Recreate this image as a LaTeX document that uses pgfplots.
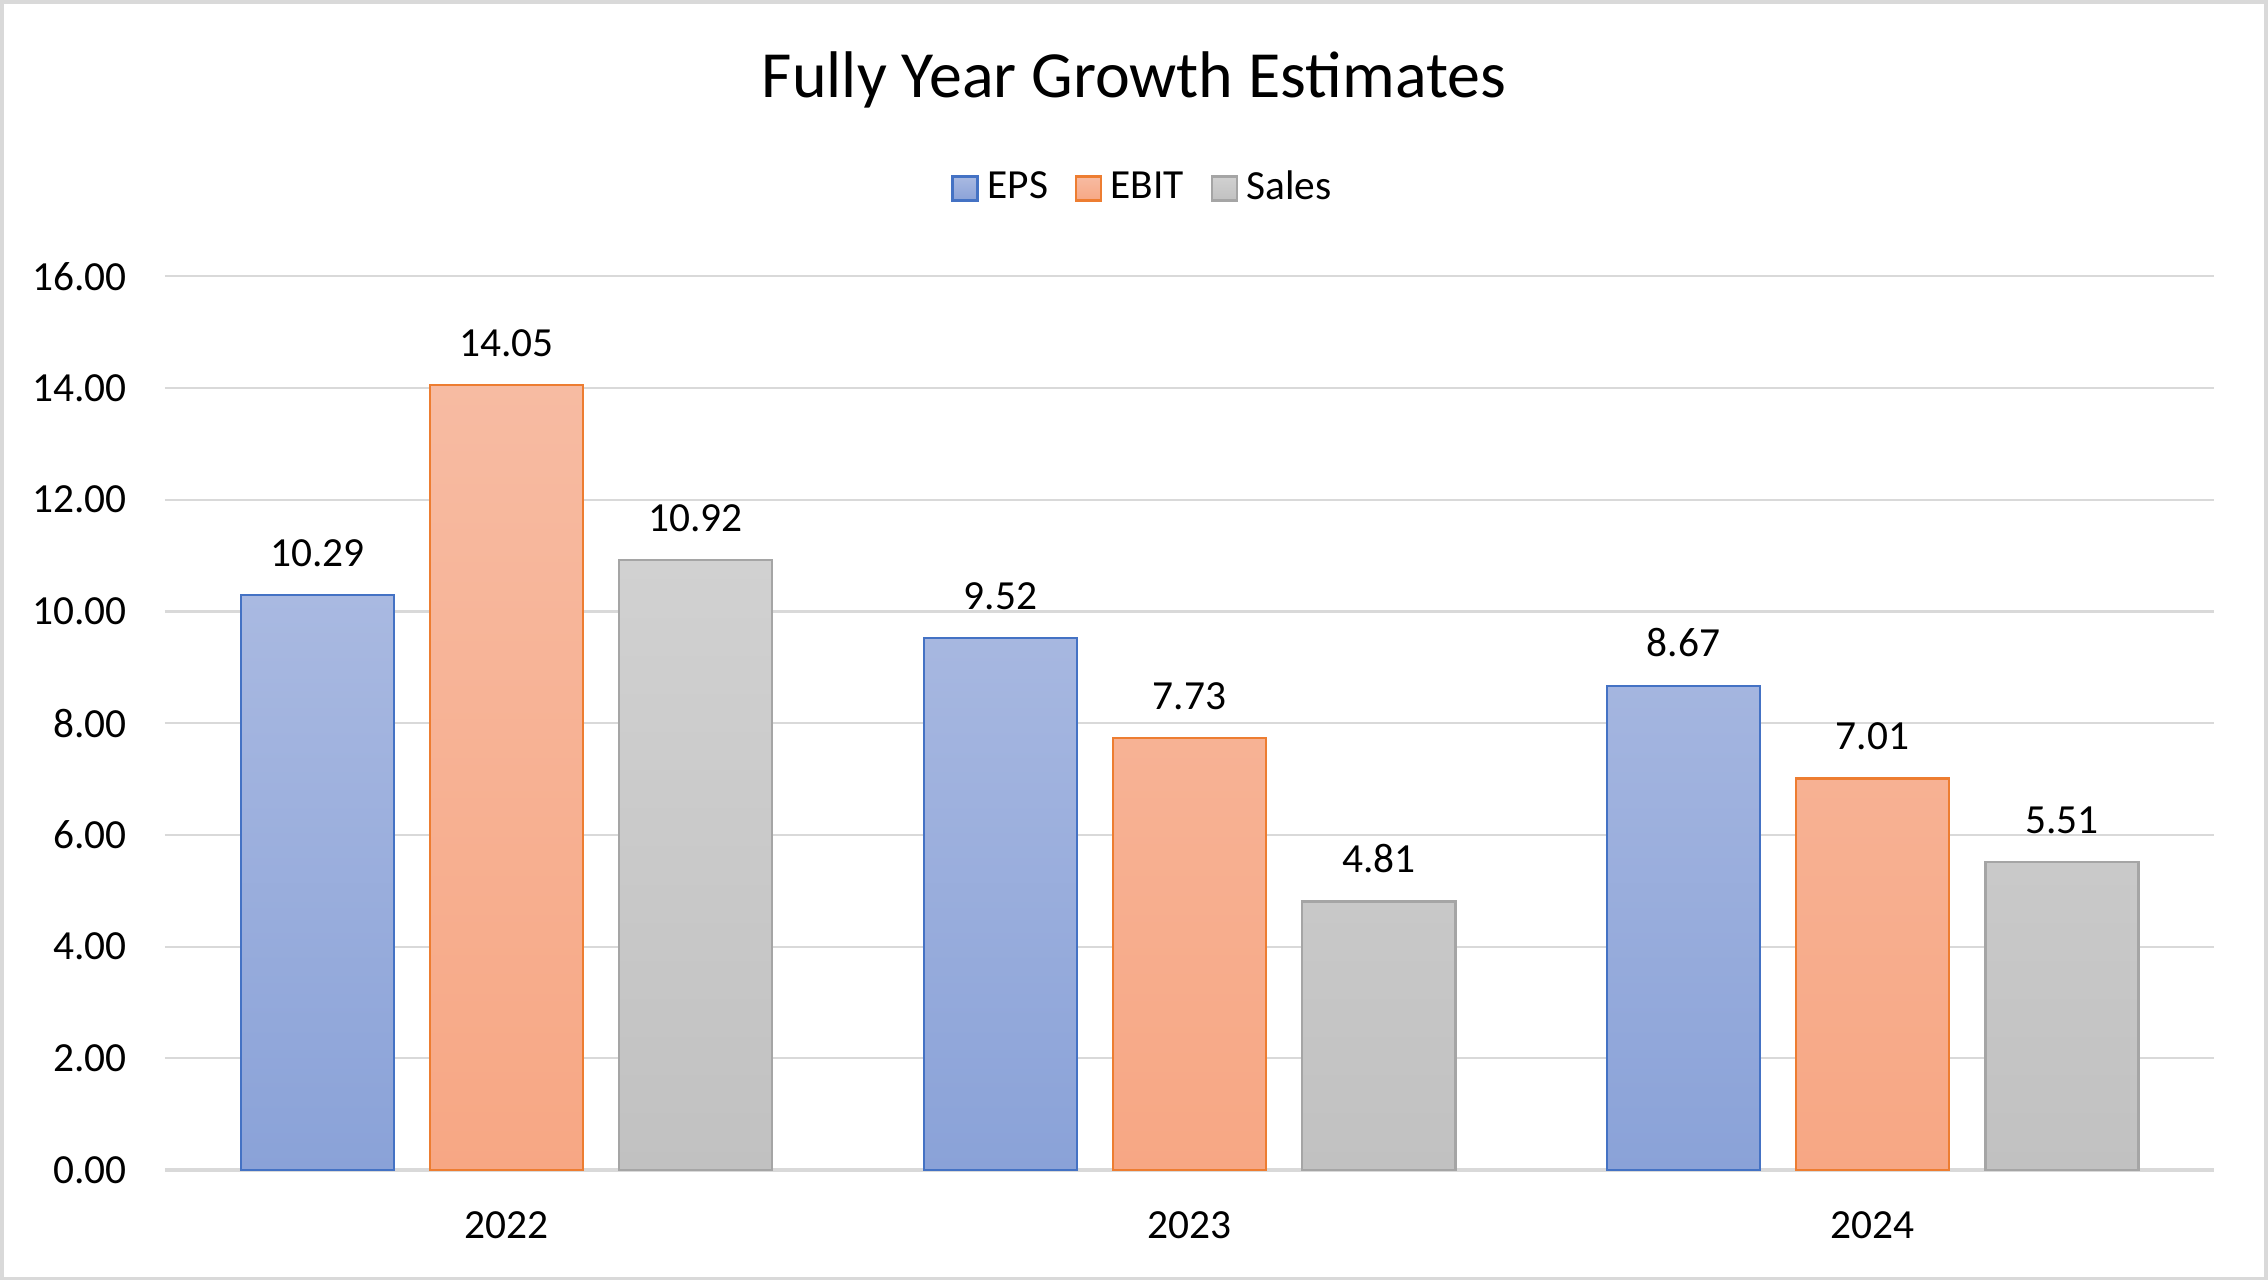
\documentclass[border=0pt]{standalone}
\usepackage{fontspec}
\setmainfont{Carlito}
\usepackage{pgfplots}
\pgfplotsset{compat=1.18}

\definecolor{epsLine}{HTML}{4472C4}
\definecolor{epsTop}{HTML}{A9B9E1}
\definecolor{epsBot}{HTML}{8AA2D8}
\definecolor{ebitLine}{HTML}{ED7D31}
\definecolor{ebitTop}{HTML}{F7BBA2}
\definecolor{ebitBot}{HTML}{F7A784}
\definecolor{salesLine}{HTML}{A5A5A5}
\definecolor{salesTop}{HTML}{D1D1D1}
\definecolor{salesBot}{HTML}{C1C1C1}
\definecolor{gridgray}{HTML}{D9D9D9}

\pgfplotsset{
  sqlegend/.style={legend image code/.code={
    \draw[##1, line width=0.5pt] (0pt,-2.5pt) rectangle (5.2pt,2.5pt);
    \path (7pt,0pt);}},
}

\begin{document}
\begin{tikzpicture}
\begin{axis}[
  scale only axis,
  width=425.7pt, height=185.7pt,
  ymin=0, ymax=16, ytick={0,2,...,16},
  xmin=-0.5, xmax=2.5,
  xtick={0,1,2}, xticklabels={2022,2023,2024},
  ybar=7.5pt, bar width=31.8pt,
  axis line style={draw=none},
  tick style={draw=none},
  ymajorgrids,
  grid style={gridgray, line width=0.45pt},
  extra y ticks={0}, extra y tick labels={},
  extra y tick style={grid style={gridgray, line width=0.7pt}},
  /pgf/number format/fixed,
  /pgf/number format/fixed zerofill,
  /pgf/number format/precision=2,
  /pgf/number format/assume math mode=true,
  font=\fontsize{8.6}{10}\selectfont,
  yticklabel style={anchor=east, inner sep=0pt, xshift=-7.8pt},
  xticklabel style={anchor=north, inner sep=0pt, yshift=-4.1pt},
  nodes near coords,
  every node near coord/.append style={anchor=south, inner sep=0pt, yshift=5.7pt, text=black},
  title={Fully Year Growth Estimates},
  title style={at={(0.4729,1.1874)}, anchor=center, inner sep=0pt, font=\fontsize{13.7}{16}\selectfont},
  legend columns=3,
  legend style={draw=none, fill=none, at={(0.4766,1.098)}, anchor=center,
    nodes={inner sep=0pt}, font=\fontsize{8.6}{10}\selectfont,
    /tikz/every even column/.append style={column sep=5.5pt}},
]
\addplot[sqlegend, draw=epsLine, line width=0.5pt, top color=epsTop, bottom color=epsBot]
  coordinates {(0,10.29) (1,9.52) (2,8.67)};
\addplot[sqlegend, draw=ebitLine, line width=0.5pt, top color=ebitTop, bottom color=ebitBot]
  coordinates {(0,14.05) (1,7.73) (2,7.01)};
\addplot[sqlegend, draw=salesLine, line width=0.5pt, top color=salesTop, bottom color=salesBot]
  coordinates {(0,10.92) (1,4.81) (2,5.51)};
\legend{EPS, EBIT, Sales}
\end{axis}
\draw[gridgray, line width=0.75pt] (-33.9pt,-22.5pt) rectangle (436.5pt,242.7pt);
\end{tikzpicture}
\end{document}
